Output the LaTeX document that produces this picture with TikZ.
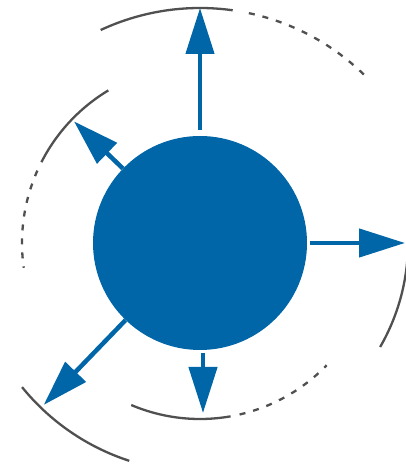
\documentclass[tikz,border=0pt]{standalone}
\usetikzlibrary{arrows.meta}
\definecolor{blu}{RGB}{0,102,168}
\definecolor{arcg}{RGB}{80,80,80}
\begin{document}
\begin{tikzpicture}[x=1pt,y=1pt,
 ray/.style={draw=blu,line width=4.5pt,-{Triangle[length=46pt,width=28pt]}},
 ring/.style={draw=arcg,line width=2.3pt},
 ringdash/.style={ring,dash pattern=on 6pt off 8pt}]
\useasboundingbox (0,0) rectangle (405,466);
\coordinate (o) at (200,223);
\node[circle,fill=blu,minimum size=214pt,inner sep=0pt] (c) at (o) {};
\coordinate (tu) at (200,458);
\coordinate (tul) at (74,344.6);
\coordinate (tr) at (405,223);
\coordinate (tll) at (43.7,61.1);
\coordinate (td) at (203,53);
\draw[ray] ([yshift=6pt]c.north) -- (tu);
\draw[ray] (c.136) -- (tul);
\draw[ray] ([xshift=3pt]c.east) -- (tr);
\draw[ray] (c.226) -- (tll);
\draw[ray] ([xshift=3pt,yshift=-3pt]c.south) -- (td);
% arcs
\draw[ring] ([shift={(o)}]115:235pt) arc[start angle=115,end angle=82,radius=235pt];
\draw[ringdash] ([shift={(o)}]78:235pt) arc[start angle=78,end angle=45,radius=235pt];
\draw[ring] ([shift={(o)}]121:178pt) arc[start angle=121,end angle=153,radius=178pt];
\draw[ringdash] ([shift={(o)}]156:178pt) arc[start angle=156,end angle=188,radius=178pt];
\draw[ring] ([shift={(o)}]247:176pt) arc[start angle=247,end angle=280,radius=176pt];
\draw[ringdash] ([shift={(o)}]283:176pt) arc[start angle=283,end angle=316,radius=176pt];
\draw[ring] ([shift={(o)}]-2:208pt) arc[start angle=-2,end angle=-30,radius=208pt];
\draw[ring] ([shift={(o)}]219:229pt) arc[start angle=219,end angle=252,radius=229pt];
\end{tikzpicture}
\end{document}
